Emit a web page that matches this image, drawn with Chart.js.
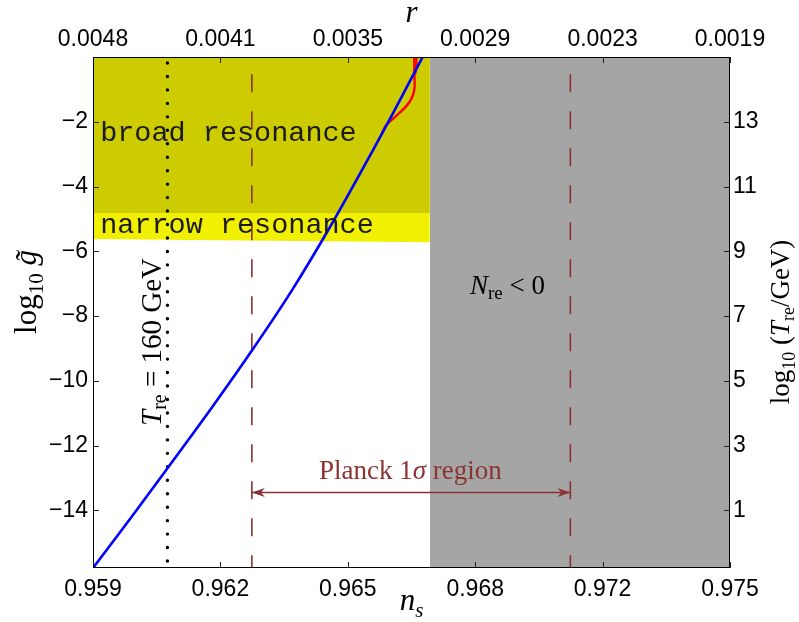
<!DOCTYPE html>
<html>
<head>
<meta charset="utf-8">
<script src="https://cdn.jsdelivr.net/npm/chart.js@4.4.1/dist/chart.umd.min.js"></script>
<style>
  html, body { margin: 0; padding: 0; background: #fff; }
  #wrap { width: 799px; height: 622px; }
</style>
</head>
<body>
<div id="wrap"><canvas id="reheat"></canvas></div>
<script>
// axis ranges
const nsMin = 0.959, nsMax = 0.975;
const gMin = -15.78, gMax = 0;
const tShift = 15; // log10(T_re/GeV) = log10 g + 15

// tick positions and labels
const nsTicks = [0.959, 0.9622, 0.9654, 0.9686, 0.9718, 0.975];
const nsLabels = ["0.959", "0.962", "0.965", "0.968", "0.972", "0.975"];
const rLabels = ["0.0048", "0.0041", "0.0035", "0.0029", "0.0023", "0.0019"];
const logGTicks = [-14, -12, -10, -8, -6, -4, -2];
const logTTicks = [1, 3, 5, 7, 9, 11, 13];

// log10 g~ against n_s
const curveNs = [0.959, 0.96, 0.9609, 0.962, 0.963, 0.964, 0.965, 0.966, 0.96655, 0.96728];
const curveG = [-15.78, -14.15, -12.65, -10.8, -9.05, -7.2, -5.15, -2.95, -1.7, 0];

// red branches near the top of the curve
const redANs = [0.96625, 0.966355, 0.966624, 0.966876, 0.967009, 0.967074, 0.967074, 0.967067];
const redAG = [-2.38, -2.12, -1.81, -1.51, -1.26, -0.98, -0.58, 0];
const redBNs = [0.967122, 0.96712, 0.967097, 0.96703];
const redBG = [0, -0.3, -0.49, -0.58];

// shaded regions
const nrcEdge = 0.96746;          // N_re < 0 to the right
const broadBottom = -4.82;
const narrowBottom = [-5.62, -5.72];

// reference lines
const planckLow = 0.96299, planckHigh = 0.97099;
const t160Ns = 0.96087;
const arrowG = -13.44;

const pts = (xs, ys) => xs.map((v, i) => ({ x: v, y: ys[i] }));

function flat(color, data, order) {
  return {
    data, order, fill: "end", backgroundColor: color,
    borderWidth: 0, pointRadius: 0, tension: 0,
  };
}

function vline(x, y0, y1, opts) {
  return Object.assign({
    data: [{ x, y: y0 }, { x, y: y1 }],
    pointRadius: 0, fill: false, tension: 0,
  }, opts);
}

const datasets = [
  {
    data: pts(curveNs, curveG), order: 1,
    borderColor: "#0000ff", borderWidth: 2.6, pointRadius: 0,
    cubicInterpolationMode: "monotone", fill: false,
  },
  {
    data: pts(redANs, redAG), order: 2,
    borderColor: "#ff0000", borderWidth: 2.4, pointRadius: 0, tension: 0.35, fill: false,
  },
  {
    data: pts(redBNs, redBG), order: 2,
    borderColor: "#ff0000", borderWidth: 2.4, pointRadius: 0, tension: 0.35, fill: false,
  },
  vline(planckLow, gMin, gMax, {
    order: 3, borderColor: "#8b3232", borderWidth: 1.6,
    borderDash: [18, 19], borderDashOffset: 5.3,
  }),
  vline(planckHigh, gMin, gMax, {
    order: 3, borderColor: "#8b3232", borderWidth: 1.6,
    borderDash: [18, 19], borderDashOffset: 5.3,
  }),
  vline(t160Ns, -0.185, -15.6, {
    order: 3, borderColor: "#000", borderWidth: 3.4,
    borderDash: [0.01, 13.45], borderCapStyle: "round",
  }),
  flat("#cccc00", [{ x: nsMin, y: broadBottom }, { x: nrcEdge, y: broadBottom }], 5),
  flat("#f0f000", [{ x: nsMin, y: narrowBottom[0] }, { x: nrcEdge, y: narrowBottom[1] }], 6),
  flat("#a5a5a5", [{ x: nrcEdge, y: gMin }, { x: nsMax, y: gMin }], 7),
];

const serif = '"Liberation Serif", "Times New Roman", serif';
const sans = '"Liberation Sans", Arial, sans-serif';

// draws a run of text pieces with their own fonts and vertical shifts
function rich(ctx, parts, x, y, align) {
  let total = 0;
  parts.forEach(p => { ctx.font = p.f; p.w = ctx.measureText(p.t).width; total += p.w; });
  let cx = align === "center" ? x - total / 2 : x;
  ctx.textAlign = "left";
  ctx.textBaseline = "alphabetic";
  parts.forEach(p => { ctx.font = p.f; ctx.fillText(p.t, cx, y + (p.dy || 0)); cx += p.w; });
}

function rotated(ctx, parts, x, y) {
  ctx.save();
  ctx.translate(x, y);
  ctx.rotate(-Math.PI / 2);
  rich(ctx, parts, 0, 0, "center");
  ctx.restore();
}

const labels = {
  id: "labels",
  afterDatasetsDraw(chart) {
    const { ctx, scales: { x, y } } = chart;
    ctx.save();

    // Planck arrow
    const xa = x.getPixelForValue(planckLow), xb = x.getPixelForValue(planckHigh);
    const ya = Math.round(y.getPixelForValue(arrowG)) + 0.5;
    ctx.strokeStyle = "#8b3232";
    ctx.fillStyle = "#8b3232";
    ctx.lineWidth = 1.3;
    ctx.beginPath();
    ctx.moveTo(xa, ya);
    ctx.lineTo(xb, ya);
    ctx.stroke();
    [[xa, 1], [xb, -1]].forEach(([px, d]) => {
      ctx.beginPath();
      ctx.moveTo(px, ya);
      ctx.lineTo(px + d * 13, ya - 4.5);
      ctx.lineTo(px + d * 9, ya);
      ctx.lineTo(px + d * 13, ya + 4.5);
      ctx.closePath();
      ctx.fill();
    });
    rich(ctx, [
      { t: "Planck 1", f: `27px ${serif}` },
      { t: "σ", f: `italic 27px ${serif}` },
      { t: " region", f: `27px ${serif}` },
    ], x.getPixelForValue(0.96697), y.getPixelForValue(-13.02), "center");

    // region names
    ctx.fillStyle = "#1a1a1a";
    ctx.font = `28.5px "Liberation Mono", "DejaVu Sans Mono", monospace`;
    ctx.textAlign = "left";
    ctx.fillText("broad resonance", x.getPixelForValue(0.95918), y.getPixelForValue(-2.6));
    ctx.fillText("narrow resonance", x.getPixelForValue(0.95918), y.getPixelForValue(-5.43));

    ctx.fillStyle = "#000";
    rich(ctx, [
      { t: "N", f: `italic 27px ${serif}` },
      { t: "re", f: `19px ${serif}`, dy: 5 },
      { t: " < 0", f: `27px ${serif}` },
    ], x.getPixelForValue(0.96847), y.getPixelForValue(-7.31), "left");

    rotated(ctx, [
      { t: "T", f: `italic 29px ${serif}` },
      { t: "re", f: `20px ${serif}`, dy: 5 },
      { t: " = 160 GeV", f: `29px ${serif}` },
    ], x.getPixelForValue(0.9607), y.getPixelForValue(-8.8));

    ctx.restore();
  },
  afterDraw(chart) {
    const { ctx, chartArea: a, scales } = chart;
    ctx.save();
    ctx.strokeStyle = "#222";
    ctx.lineWidth = 1;
    const L = 6;
    ctx.beginPath();
    scales.x.ticks.forEach(t => {
      const p = Math.round(scales.x.getPixelForValue(t.value)) + 0.5;
      ctx.moveTo(p, a.bottom); ctx.lineTo(p, a.bottom - L);
      ctx.moveTo(p, a.top); ctx.lineTo(p, a.top + L);
    });
    scales.y.ticks.forEach(t => {
      const p = Math.round(scales.y.getPixelForValue(t.value)) + 0.5;
      ctx.moveTo(a.left, p); ctx.lineTo(a.left + L, p);
    });
    scales.y2.ticks.forEach(t => {
      const p = Math.round(scales.y2.getPixelForValue(t.value)) + 0.5;
      ctx.moveTo(a.right, p); ctx.lineTo(a.right - L, p);
    });
    ctx.stroke();
    ctx.strokeStyle = "#000";
    ctx.strokeRect(Math.round(a.left) + 0.5, Math.round(a.top) + 0.5,
      Math.round(a.right - a.left) - 1, Math.round(a.bottom - a.top) - 1);

    // axis titles
    ctx.fillStyle = "#000";
    const cx = (a.left + a.right) / 2;
    rich(ctx, [{ t: "r", f: `italic 31px ${serif}` }], cx, 22, "center");
    rich(ctx, [
      { t: "n", f: `italic 31px ${serif}` },
      { t: "s", f: `italic 21px ${serif}`, dy: 7 },
    ], cx, 610, "center");
    rotated(ctx, [
      { t: "log", f: `31px ${serif}` },
      { t: "10", f: `21px ${serif}`, dy: 7 },
      { t: " g\u0303", f: `italic 31px ${serif}` },
    ], 36, 292);
    rotated(ctx, [
      { t: "log", f: `27px ${serif}` },
      { t: "10", f: `18px ${serif}`, dy: 6 },
      { t: " (", f: `27px ${serif}` },
      { t: "T", f: `italic 27px ${serif}` },
      { t: "re", f: `18px ${serif}`, dy: 5 },
      { t: "/GeV)", f: `27px ${serif}` },
    ], 789, 322);
    ctx.restore();
  },
};

function fixedSize(prop, size) {
  return s => {
    s[prop] = size;
    s.paddingLeft = s.paddingRight = s.paddingTop = s.paddingBottom = 0;
  };
}

const tickFont = { family: sans, size: 23 };
const minus = v => (v < 0 ? "\u2212" + Math.abs(v) : String(v));

const config = {
  type: "line",
  data: { datasets },
  options: {
    responsive: true,
    maintainAspectRatio: false,
    animation: false,
    layout: { padding: 0 },
    plugins: { legend: { display: false }, tooltip: { enabled: false } },
    scales: {
      x: {
        type: "linear", position: "bottom", min: nsMin, max: nsMax,
        grid: { display: false, drawTicks: false }, border: { display: false },
        afterBuildTicks: s => { s.ticks = nsTicks.map(v => ({ value: v })); },
        ticks: { font: tickFont, color: "#000", padding: 8, maxRotation: 0, autoSkip: false,
          callback: (v, i) => nsLabels[i] },
        afterFit: fixedSize("height", 54),
      },
      x2: {
        type: "linear", position: "top", min: nsMin, max: nsMax,
        grid: { display: false, drawTicks: false }, border: { display: false },
        afterBuildTicks: s => { s.ticks = nsTicks.map(v => ({ value: v })); },
        ticks: { font: tickFont, color: "#000", padding: 4, maxRotation: 0, autoSkip: false,
          callback: (v, i) => rLabels[i] },
        afterFit: fixedSize("height", 57),
      },
      y: {
        type: "linear", position: "left", min: gMin, max: gMax,
        grid: { display: false, drawTicks: false }, border: { display: false },
        afterBuildTicks: s => { s.ticks = logGTicks.map(v => ({ value: v })); },
        ticks: { font: tickFont, color: "#000", padding: 5, autoSkip: false, callback: minus },
        afterFit: fixedSize("width", 93),
      },
      y2: {
        type: "linear", position: "right", min: gMin + tShift, max: gMax + tShift,
        grid: { display: false, drawTicks: false }, border: { display: false },
        afterBuildTicks: s => { s.ticks = logTTicks.map(v => ({ value: v })); },
        ticks: { font: tickFont, color: "#000", padding: 3, autoSkip: false },
        afterFit: fixedSize("width", 69),
      },
    },
  },
  plugins: [labels],
};

new Chart(document.getElementById("reheat").getContext("2d"), config);
</script>
</body>
</html>
